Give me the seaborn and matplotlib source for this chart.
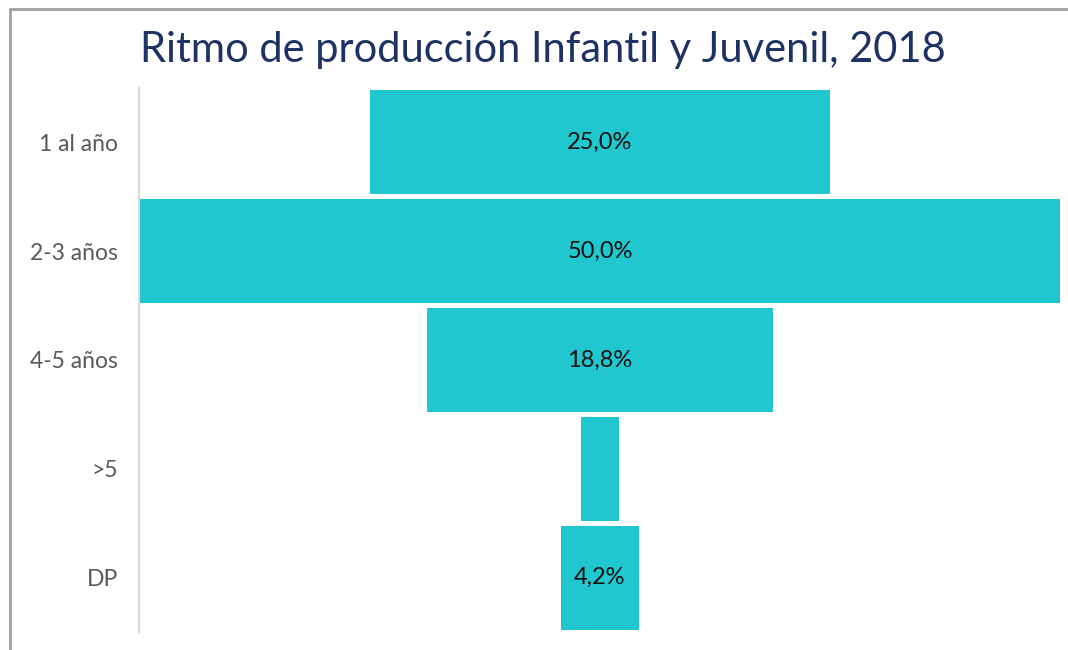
import matplotlib
matplotlib.use("Agg")
import matplotlib.pyplot as plt
import seaborn as sns
import pandas as pd

categories = ["1 al año", "2-3 años", "4-5 años", ">5", "DP"]
shares = [25.0, 50.0, 18.8, 2.1, 4.2]
labels = ["25,0%", "50,0%", "18,8%", "", "4,2%"]

sns.set_theme(style="white")
plt.rcParams['font.family'] = ['Lato', 'DejaVu Sans']

df = pd.DataFrame({"cat": categories, "share": shares})

fig = plt.figure(figsize=(10.68, 6.5), dpi=100)
ax = fig.add_axes([139 / 1068, 1 - 632 / 650, 922 / 1068, 544 / 650])

sns.barplot(data=df, x="share", y="cat", orient="h", color="#20C7CF",
            saturation=1, width=0.955, ax=ax)

# center each bar to make a funnel
for p, lab in zip(ax.patches, labels):
    w = p.get_width()
    p.set_x(-w / 2)
    p.set_edgecolor("none")
    if lab:
        ax.text(0, p.get_y() + p.get_height() / 2, lab, ha="center", va="center",
                fontsize=17, color="#111111")

ax.set_xlim(-25.05, 25.05)
ax.set_xticks([])
ax.set_xlabel("")
ax.set_ylabel("")
ax.tick_params(axis="y", length=0, pad=15, labelsize=16.5, labelcolor="#595959")
for s in ["top", "right", "bottom"]:
    ax.spines[s].set_visible(False)
ax.spines["left"].set_color("#D9D9D9")
ax.spines["left"].set_linewidth(1.5)

fig.text(0.508, 1 - 50 / 650, "Ritmo de producción Infantil y Juvenil, 2018", ha="center",
         va="center", fontsize=30, color="#1F3264")

# outer frame lines (top and left) as in the reference
fig.add_artist(plt.Line2D([10 / 1068, 1], [1 - 9 / 650, 1 - 9 / 650], color="#A0A0A0", lw=2))
fig.add_artist(plt.Line2D([10 / 1068, 10 / 1068], [0, 1 - 9 / 650], color="#A0A0A0", lw=2))

fig.savefig("out.png", dpi=100)
